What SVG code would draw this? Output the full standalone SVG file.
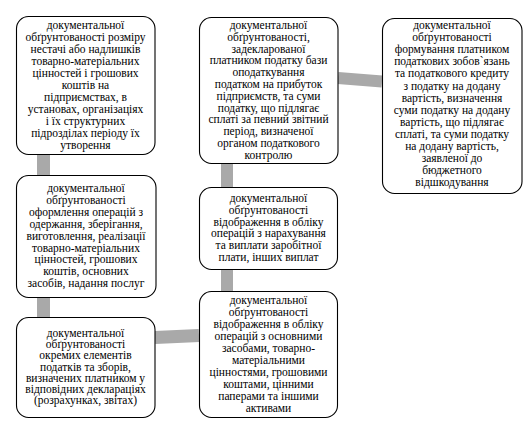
<svg xmlns="http://www.w3.org/2000/svg" width="526" height="428" viewBox="0 0 526 428">
<style>
.box{fill:#fff;stroke:#000;stroke-width:1.1}
.t{font-family:"Liberation Serif","Times New Roman",serif;font-size:11.5px;fill:#000;text-anchor:middle}
.c{stroke:#a9a9a9;fill:none}
</style>
<rect width="526" height="428" fill="#fff"/>
<g id="connectors">
<line class="c" x1="43.5" y1="154" x2="43.5" y2="175.5" stroke-width="13"/>
<line class="c" x1="43.5" y1="297" x2="43.5" y2="317.5" stroke-width="13"/>
<line class="c" x1="227" y1="163" x2="227" y2="187.5" stroke-width="12"/>
<line class="c" x1="227" y1="269.5" x2="227" y2="291.5" stroke-width="12"/>
<line class="c" x1="155" y1="337.5" x2="199" y2="335.5" stroke-width="13"/>
<line class="c" x1="338" y1="78" x2="382" y2="81.5" stroke-width="12"/>
</g>
<g id="n1">
<rect class="box" x="16.5" y="16.5" width="138.5" height="138" rx="12"/>
<text class="t" x="85.5" y="29">документальної</text>
<text class="t" x="85.5" y="41">обґрунтованості розміру</text>
<text class="t" x="85.5" y="53">нестачі або надлишків</text>
<text class="t" x="85.5" y="65">товарно-матеріальних</text>
<text class="t" x="85.5" y="77">цінностей і грошових</text>
<text class="t" x="85.5" y="89">коштів на</text>
<text class="t" x="85.5" y="101">підприємствах, в</text>
<text class="t" x="85.5" y="113">установах, організаціях</text>
<text class="t" x="85.5" y="125">і їх структурних</text>
<text class="t" x="85.5" y="137">підрозділах періоду їх</text>
<text class="t" x="85.5" y="149">утворення</text>
</g>
<g id="n2">
<rect class="box" x="199.5" y="17.5" width="138.5" height="146" rx="12"/>
<text class="t" x="268.5" y="29">документальної</text>
<text class="t" x="268.5" y="40.8">обґрунтованості,</text>
<text class="t" x="268.5" y="52.6">задекларованої</text>
<text class="t" x="268.5" y="64.4">платником податку бази</text>
<text class="t" x="268.5" y="76.2">оподаткування</text>
<text class="t" x="268.5" y="88">податком на прибуток</text>
<text class="t" x="268.5" y="99.8">підприємств, та суми</text>
<text class="t" x="268.5" y="111.6">податку, що підлягає</text>
<text class="t" x="268.5" y="123.4">сплаті за певний звітний</text>
<text class="t" x="268.5" y="135.2">період, визначеної</text>
<text class="t" x="268.5" y="147">органом податкового</text>
<text class="t" x="268.5" y="158.8">контролю</text>
</g>
<g id="n3">
<rect class="box" x="382.5" y="18.5" width="139.5" height="175" rx="12"/>
<text class="t" x="452" y="29">документальної</text>
<text class="t" x="452" y="41.1">обґрунтованості</text>
<text class="t" x="452" y="53.2">формування платником</text>
<text class="t" x="452" y="65.3">податкових зобов`язань</text>
<text class="t" x="452" y="77.4">та податкового кредиту</text>
<text class="t" x="452" y="89.5">з податку на додану</text>
<text class="t" x="452" y="101.6">вартість, визначення</text>
<text class="t" x="452" y="113.7">суми податку на додану</text>
<text class="t" x="452" y="125.8">вартість, що підлягає</text>
<text class="t" x="452" y="137.9">сплаті, та суми податку</text>
<text class="t" x="452" y="150">на додану вартість,</text>
<text class="t" x="452" y="162.1">заявленої до</text>
<text class="t" x="452" y="174.2">бюджетного</text>
<text class="t" x="452" y="186.3">відшкодування</text>
</g>
<g id="n4">
<rect class="box" x="16.5" y="175.5" width="139.5" height="122" rx="12"/>
<text class="t" x="86" y="192">документальної</text>
<text class="t" x="86" y="203.9">обґрунтованості</text>
<text class="t" x="86" y="215.8">оформлення операцій з</text>
<text class="t" x="86" y="227.7">одержання, зберігання,</text>
<text class="t" x="86" y="239.6">виготовлення, реалізації</text>
<text class="t" x="86" y="251.5">товарно-матеріальних</text>
<text class="t" x="86" y="263.4">цінностей, грошових</text>
<text class="t" x="86" y="275.3">коштів, основних</text>
<text class="t" x="86" y="287.2">засобів, надання послуг</text>
</g>
<g id="n5">
<rect class="box" x="199.5" y="187.5" width="138" height="82" rx="12"/>
<text class="t" x="268.5" y="202">документальної</text>
<text class="t" x="268.5" y="213.8">обґрунтованості</text>
<text class="t" x="268.5" y="225.6">відображення в обліку</text>
<text class="t" x="268.5" y="237.4">операцій з нарахування</text>
<text class="t" x="268.5" y="249.2">та виплати заробітної</text>
<text class="t" x="268.5" y="261">плати, інших виплат</text>
</g>
<g id="n6">
<rect class="box" x="16.5" y="317.5" width="138.5" height="100" rx="12"/>
<text class="t" x="85.5" y="337">документальної</text>
<text class="t" x="85.5" y="348.2">обґрунтованості</text>
<text class="t" x="85.5" y="359.4">окремих елементів</text>
<text class="t" x="85.5" y="370.6">податків та зборів,</text>
<text class="t" x="85.5" y="381.8">визначених платником у</text>
<text class="t" x="85.5" y="393">відповідних деклараціях</text>
<text class="t" x="85.5" y="404.2">(розрахунках, звітах)</text>
</g>
<g id="n7">
<rect class="box" x="199.5" y="291.5" width="138" height="126" rx="12"/>
<text class="t" x="268.5" y="304">документальної</text>
<text class="t" x="268.5" y="316">обґрунтованості</text>
<text class="t" x="268.5" y="328">відображення в обліку</text>
<text class="t" x="268.5" y="340">операцій з основними</text>
<text class="t" x="268.5" y="352">засобами, товарно-</text>
<text class="t" x="268.5" y="364">матеріальними</text>
<text class="t" x="268.5" y="376">цінностями, грошовими</text>
<text class="t" x="268.5" y="388">коштами, цінними</text>
<text class="t" x="268.5" y="400">паперами та іншими</text>
<text class="t" x="268.5" y="412">активами</text>
</g>
</svg>
